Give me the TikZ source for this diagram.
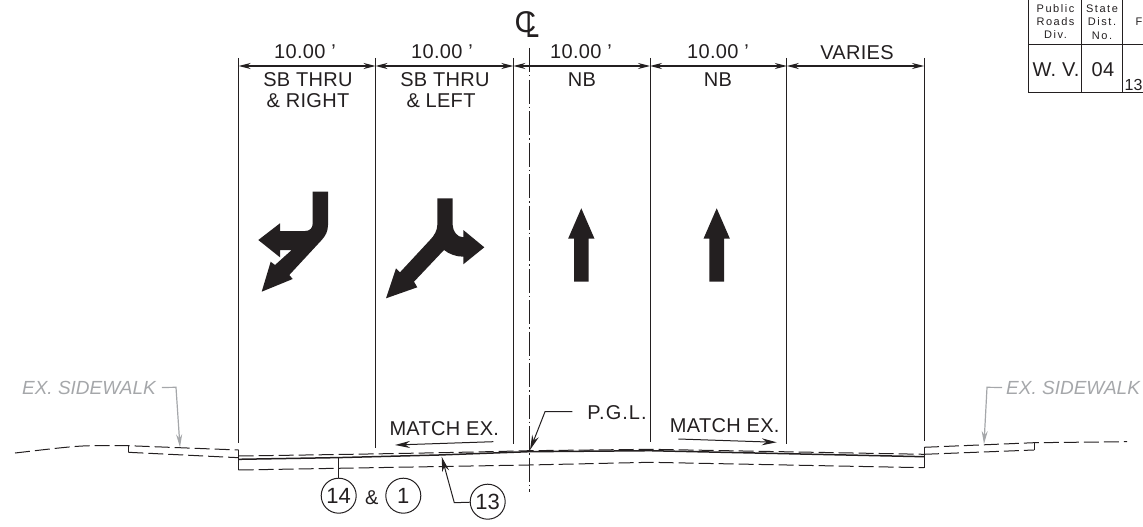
\documentclass[tikz,border=0pt]{standalone}
\usepackage{fontspec}
\setmainfont{Liberation Sans}
\usepackage{tikz}
\usetikzlibrary{arrows.meta}
\usetikzlibrary{positioning}
\definecolor{ink}{RGB}{35,31,32}
\definecolor{exgray}{RGB}{165,167,170}
\tikzset{
	lane/.style={ink,line width=1pt},
	dim/.style={ink,line width=1.2pt,{Stealth[length=12pt,width=6pt]}-{Stealth[length=12pt,width=6pt]}},
	road/.style={ink,line width=1pt,dash pattern=on 15pt off 5pt},
	leader/.style={ink,line width=1pt,-{Stealth[length=15pt,width=7pt]}},
	exleader/.style={exgray,line width=1.2pt,-{Stealth[length=13pt,width=6pt]}},
	txt/.style={inner sep=0pt,text=ink,font=\fontsize{20}{20}\selectfont\addfontfeatures{LetterSpace=1.5}},
	extxt/.style={inner sep=0pt,text=exgray,font=\fontsize{19}{19}\selectfont\itshape},
	tag/.style={circle,draw=ink,line width=1pt,minimum size=35pt,inner sep=0pt,text=ink,font=\fontsize{22}{22}\selectfont},
	tabtxt/.style={inner sep=0pt,text=ink,font=\fontsize{11}{11}\selectfont\addfontfeatures{LetterSpace=14}}
}
\begin{document}
\begin{tikzpicture}[x=1pt,y=-1pt]
	\useasboundingbox (0,0) rectangle (1143,527);

	% lane lines
	\foreach \name/\xx/\yy in {a/238.7/443,b/375.5/447.5,c/513.3/444,d/650/442,e/786.8/444,f/924/441}{
		\coordinate (top\name) at (\xx,58);
		\coordinate (bot\name) at (\xx,\yy);
		\coordinate (dim\name) at (\xx,66);
		\draw [lane] (top\name) -- (bot\name);
	}
	\draw [dim] (dima) -- (dimb);
	\draw [dim] (dimb) -- (dimc);
	\draw [dim] (dimc) -- (dimd);
	\draw [dim] (dimd) -- (dime);
	\draw [dim] (dime) -- (dimf);

	\node [txt] (wa) at (305,52) {10.00 '};
	\node [txt] (wb) at (442,52) {10.00 '};
	\node [txt] (wc) at (581,52) {10.00 '};
	\node [txt] (wd) at (718,52) {10.00 '};
	\node [txt] (we) at (857,53) {VARIES};
	\node [txt] (sba) at (308,80) {SB THRU};
	\node [txt] (ra) at (308,101) {\& RIGHT};
	\node [txt] (sbb) at (445,80) {SB THRU};
	\node [txt] (lb) at (441,101) {\& LEFT};
	\node [txt] (nba) at (582,80) {NB};
	\node [txt] (nbb) at (718,80) {NB};

	% centerline
	\coordinate (cltop) at (529.3,48);
	\coordinate (clbot) at (529.3,492);
	\draw [ink,line width=1pt,dash pattern=on 24pt off 3pt on 1.5pt off 3pt] (cltop) -- (clbot);
	\node [inner sep=0pt,text=ink,font=\fontsize{30}{30}\selectfont] (clc) at (525.5,22) {C};
	\node [inner sep=0pt,text=ink,xscale=0.68,font=\fontsize{36}{36}\selectfont] (cll) at (532.5,25) {L};

	% pavement arrows
	\fill [ink] (312.7,191.7) -- (328,191.7) -- (328,225) .. controls (328,231) and (325.5,236) .. (321.7,240)
		-- (289.3,275) -- (292.7,279) -- (261.7,291.7) -- (270.7,261.7) -- (275,265) -- (291.7,250) -- (280,250) -- (280,257.3)
		-- (258.3,240) -- (280,223.3) -- (280,231) -- (305,231) .. controls (310,231) and (312.7,228) .. (312.7,223.3) -- cycle;
	\fill [ink] (437.3,198.3) -- (452.7,198.3) -- (452.7,225) .. controls (452.7,231) and (457,237.3) .. (463.3,237.3)
		-- (463.3,230) -- (484.3,247.3) -- (463.3,264.3) -- (463.3,256.7) .. controls (456,256.7) and (449,254) .. (444,250)
		-- (414,281.7) -- (417.3,287.3) -- (386,298.3) -- (396,268.3) -- (400,272.3) -- (430,240)
		.. controls (434.5,235.5) and (437.3,230) .. (437.3,225) -- cycle;
	\foreach \xx in {581.3,716.7}{
		\fill [ink] (\xx,208.3) -- (\xx+13.2,238.7) -- (\xx+7.3,238.7) -- (\xx+7.3,281.7) -- (\xx-7.3,281.7) -- (\xx-7.3,238.7) -- (\xx-13.2,238.7) -- cycle;
	}

	% road profile
	\draw [road] (15,453) .. controls (50,449) and (75,445.7) .. (93,445.7) -- (128.3,445.7) -- (238.7,450);
	\draw [road] (238.7,456) .. controls (340,454.5) and (440,453) .. (528.7,450.7) -- (650,449.3) -- (924,454.3);
	\draw [road] (128.3,452.3) -- (238.7,457.7);
	\draw [road] (238.7,470) -- (528.7,465) -- (650,462.3) -- (924,467.7);
	\draw [road] (924,447.3) -- (1034,442.7) -- (1127,441.7);
	\draw [road] (924,454.3) -- (1034,450);
	\draw [ink,line width=1.5pt] (238.7,459.3) -- (338.7,457.6) -- (438.7,455) -- (528.7,451.7) -- (650,450.7) -- (924,456.7);
	\draw [lane] (128.3,445.7) -- (128.3,452.3);
	\draw [lane] (238.7,450) -- (238.7,470);
	\draw [lane] (924,447.3) -- (924,467.7);
	\draw [lane] (1034,442.7) -- (1034,450);

	% match lines
	\node [txt] (ml) at (444.3,429) {MATCH EX.};
	\node [txt] (mr) at (724.7,426) {MATCH EX.};
	\coordinate (mla) at (493.3,441.7);
	\coordinate (mlb) at (395,445);
	\coordinate (mra) at (678.3,439);
	\coordinate (mrb) at (776.7,442.3);
	\draw [leader] (mla) -- (mlb);
	\draw [leader] (mra) -- (mrb);

	\node [txt,font=\fontsize{20}{20}\selectfont\addfontfeatures{LetterSpace=5}] (pgl) at (617,412.7) {P.G.L.};
	\coordinate (pglend) at (530,450);
	\draw [leader] (572.3,411.7) -- (545,411.7) -- (pglend);

	% call outs
	\node [tag] (t14) at (338.7,495.7) {14};
	\node [txt] (amp) at (371.7,498) {\&};
	\node [tag] (t1) at (403.3,495.7) {1};
	\node [tag] (t13) at (487.7,501.7) {13};
	\coordinate (t14end) at (338.7,457);
	\coordinate (t13end) at (441.7,456.7);
	\draw [lane] (t14) -- (t14end);
	\draw [leader] (t13) -- (454.3,502.7) -- (t13end);

	% ex sidewalk
	\node [extxt] (exl) at (89,387.5) {EX. SIDEWALK};
	\node [extxt,anchor=west] (exr) at (1006,387.5) {EX. SIDEWALK};
	\coordinate (exlend) at (180,447.3);
	\coordinate (exrend) at (984,444);
	\draw [exleader] (exl.east) ++(5.7,0) -- (176,387.3) -- (exlend);
	\draw [exleader] (exr.west) ++(-4,0) -- (987,387.3) -- (exrend);

	% title block
	\draw [ink,line width=1.5pt] (1028.7,0) -- (1028.7,92.7);
	\draw [ink,line width=1pt] (1081.3,0) -- (1081.3,92.7);
	\draw [ink,line width=1pt] (1122.3,0) -- (1122.3,92.7);
	\draw [ink,line width=1pt] (1028.7,45) -- (1143,45);
	\draw [ink,line width=1.5pt] (1028,92.7) -- (1143,92.7);
	\node [tabtxt] (pr) at (1055.5,8.5) {Public};
	\node [tabtxt] (ro) at (1055.5,21.5) {Roads};
	\node [tabtxt] (dv) at (1055.5,34.5) {Div.};
	\node [tabtxt] (st) at (1102,8.5) {State};
	\node [tabtxt] (ds) at (1102,21.5) {Dist.};
	\node [tabtxt] (no) at (1102,35.5) {No.};
	\node [tabtxt,font=\fontsize{11}{11}\selectfont,anchor=west] (fx) at (1135.5,21.5) {F};
	\node [txt] (wv) at (1056,70) {W. V.};
	\node [txt] (dn) at (1103,70) {04};
	\node [txt,font=\fontsize{16}{16}\selectfont,anchor=west] (nn) at (1124.5,85) {13};
\end{tikzpicture}
\end{document}
